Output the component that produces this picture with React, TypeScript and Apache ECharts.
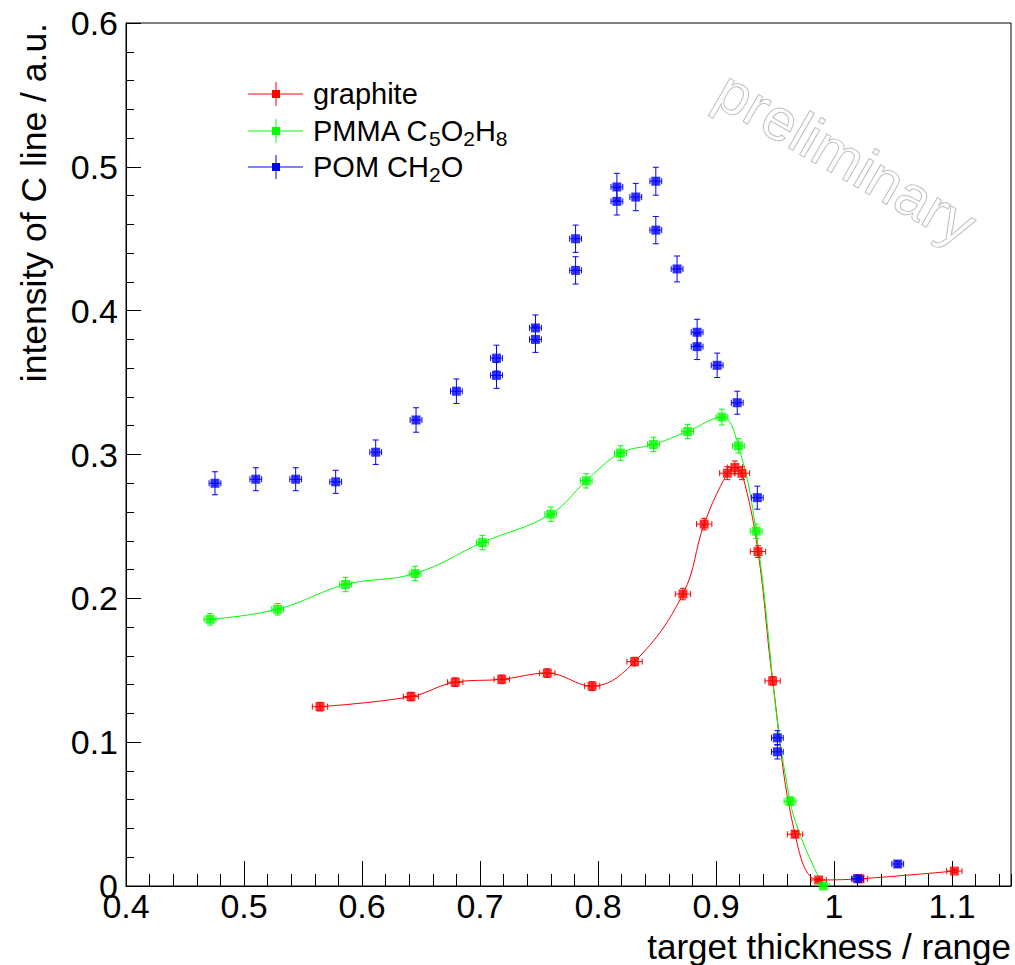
import React, { useEffect, useRef } from "react";
import * as echarts from "echarts";

// ---------- data ----------
const graphiteX = [0.5644, 0.6415, 0.679, 0.7184, 0.757, 0.795, 0.831, 0.872, 0.89, 0.9096, 0.916, 0.922, 0.9356, 0.948, 0.967, 0.987, 1.022, 1.102];
const graphiteY = [0.1247, 0.1317, 0.1417, 0.1437, 0.148, 0.139, 0.156, 0.203, 0.2516, 0.287, 0.291, 0.287, 0.2325, 0.1426, 0.036, 0.0042, 0.005, 0.0104];
const graphiteXErr = [0.0065, 0.0065, 0.0065, 0.0065, 0.0065, 0.0065, 0.0065, 0.0065, 0.0065, 0.0065, 0.0065, 0.0065, 0.0065, 0.0065, 0.0065, 0.0065, 0.0065, 0.0065];
const graphiteYErr = [0.003, 0.003, 0.003, 0.003, 0.003, 0.003, 0.003, 0.004, 0.004, 0.0045, 0.0045, 0.0045, 0.004, 0.003, 0.002, 0.001, 0.001, 0.001];

const pmmaX = [0.4712, 0.5285, 0.586, 0.645, 0.702, 0.76, 0.79, 0.819, 0.847, 0.876, 0.905, 0.919, 0.934, 0.9627, 0.991];
const pmmaY = [0.1854, 0.1924, 0.2096, 0.2173, 0.2388, 0.2585, 0.2817, 0.301, 0.307, 0.316, 0.326, 0.306, 0.2467, 0.0589, 0.0];
const pmmaXErr = [0.005, 0.005, 0.005, 0.005, 0.005, 0.005, 0.005, 0.005, 0.005, 0.005, 0.005, 0.005, 0.005, 0.005, 0.005];
const pmmaYErr = [0.004, 0.004, 0.005, 0.005, 0.005, 0.005, 0.005, 0.005, 0.005, 0.005, 0.0055, 0.005, 0.005, 0.003, 0.001];

const pomX = [0.4754, 0.51, 0.5438, 0.5777, 0.6116, 0.6458, 0.68, 0.714, 0.714, 0.747, 0.747, 0.781, 0.781, 0.816, 0.816, 0.832, 0.849, 0.849, 0.867, 0.884, 0.884, 0.901, 0.918, 0.935, 0.952, 0.952, 1.02, 1.054];
const pomY = [0.28, 0.2828, 0.2828, 0.281, 0.3016, 0.324, 0.344, 0.367, 0.355, 0.388, 0.38, 0.45, 0.428, 0.486, 0.476, 0.479, 0.49, 0.456, 0.429, 0.385, 0.375, 0.362, 0.336, 0.27, 0.103, 0.0933, 0.0051, 0.0153];
const pomXErr = [0.005, 0.005, 0.005, 0.005, 0.005, 0.005, 0.005, 0.005, 0.005, 0.005, 0.005, 0.005, 0.005, 0.005, 0.005, 0.005, 0.005, 0.005, 0.005, 0.005, 0.005, 0.005, 0.005, 0.005, 0.005, 0.005, 0.005, 0.005];
const pomYErr = [0.008, 0.008, 0.008, 0.008, 0.0085, 0.0085, 0.0085, 0.009, 0.009, 0.009, 0.009, 0.0095, 0.0095, 0.0095, 0.0095, 0.0095, 0.0097, 0.0095, 0.009, 0.009, 0.009, 0.0085, 0.008, 0.008, 0.005, 0.005, 0.002, 0.002];

const legendLabels = ["graphite", "PMMA", "POM"];
const xAxisTitle = "target thickness / range";
const yAxisTitle = "intensity of C line / a.u.";
const watermark = "preliminary";

const X_MIN = 0.4;
const X_MAX = 1.15;
const Y_MIN = 0;
const Y_MAX = 0.6;

const RED = "#ff0000";
const GREEN = "#00ff00";
const BLUE = "#0000ff";
const FONT = '"Liberation Sans", Arial, Helvetica, sans-serif';

function errorBars(xs: number[], ys: number[], exs: number[], eys: number[], color: string, z: number) {
  return {
    type: "custom",
    data: xs.map((x, i) => [x, ys[i], exs[i], eys[i]]),
    encode: { x: 0, y: 1 },
    clip: true,
    z,
    silent: true,
    renderItem: (_params: any, api: any) => {
      const x = api.value(0);
      const y = api.value(1);
      const ex = api.value(2);
      const ey = api.value(3);
      const l = api.coord([x - ex, y]);
      const r = api.coord([x + ex, y]);
      const t = api.coord([x, y + ey]);
      const b = api.coord([x, y - ey]);
      const cap = 3;
      const style = { stroke: color, lineWidth: 1 };
      return {
        type: "group",
        children: [
          { type: "line", shape: { x1: l[0], y1: l[1], x2: r[0], y2: r[1] }, style },
          { type: "line", shape: { x1: t[0], y1: t[1], x2: b[0], y2: b[1] }, style },
          { type: "line", shape: { x1: l[0], y1: l[1] - cap, x2: l[0], y2: l[1] + cap }, style },
          { type: "line", shape: { x1: r[0], y1: r[1] - cap, x2: r[0], y2: r[1] + cap }, style },
          { type: "line", shape: { x1: t[0] - cap, y1: t[1], x2: t[0] + cap, y2: t[1] }, style },
          { type: "line", shape: { x1: b[0] - cap, y1: b[1], x2: b[0] + cap, y2: b[1] }, style },
        ],
      };
    },
  };
}

function markers(xs: number[], ys: number[], color: string, z: number) {
  return {
    type: "scatter",
    data: xs.map((x, i) => [x, ys[i]]),
    symbol: "rect",
    symbolSize: 9,
    itemStyle: { color },
    z,
    silent: true,
  };
}

function curve(xs: number[], ys: number[], color: string, z: number) {
  return {
    type: "line",
    data: xs.map((x, i) => [x, ys[i]]),
    smooth: 0.4,
    showSymbol: false,
    symbol: "none",
    lineStyle: { color, width: 1 },
    clip: true,
    z,
    silent: true,
  };
}

function legendRow(y: number, color: string, rich: string) {
  return [
    { type: "line", shape: { x1: 248, y1: y, x2: 303, y2: y }, style: { stroke: color, lineWidth: 1 } },
    { type: "line", shape: { x1: 276, y1: y - 12, x2: 276, y2: y + 12 }, style: { stroke: color, lineWidth: 1 } },
    { type: "rect", shape: { x: 272, y: y - 4, width: 8, height: 8 }, style: { fill: color } },
    {
      type: "text",
      x: 313,
      y,
      style: {
        text: rich,
        fill: "#000",
        font: `29px ${FONT}`,
        verticalAlign: "middle",
        align: "left",
        rich: {
          m: { fontSize: 29, fontFamily: FONT, lineHeight: 36, verticalAlign: "middle", fill: "#000" },
          s: { fontSize: 21, fontFamily: FONT, lineHeight: 17, verticalAlign: "bottom", fill: "#000" },
        },
      },
    },
  ];
}

export default function App() {
  const ref = useRef<HTMLDivElement>(null);

  useEffect(() => {
    if (!ref.current) return;
    const chart = echarts.init(ref.current, null, { renderer: "svg" });
    const tickLabelStyle = { color: "#000", fontSize: 34, fontFamily: FONT };
    chart.setOption({
      animation: false,
      backgroundColor: "#fff",
      grid: {
        left: 126,
        right: 4,
        top: 23,
        bottom: 79,
        show: true,
        borderColor: "#000",
        borderWidth: 1,
        backgroundColor: "transparent",
        containLabel: false,
        outerBoundsMode: "none",
      },
      xAxis: [
        {
          type: "value",
          min: X_MIN,
          max: X_MAX,
          interval: 0.1,
          position: "bottom",
          axisLine: { show: true, onZero: false, lineStyle: { color: "#000", width: 1 } },
          axisTick: { show: true, inside: true, length: 25, lineStyle: { color: "#000", width: 1 } },
          axisLabel: {
            ...tickLabelStyle,
            margin: 3,
            lineHeight: 34,
            showMaxLabel: false,
            formatter: (v: number) => String(Number(v.toFixed(2))),
          },
          splitLine: { show: false },
        },
        {
          type: "value",
          min: X_MIN,
          max: X_MAX,
          interval: 0.02,
          position: "bottom",
          axisLine: { show: false },
          axisTick: { show: true, inside: true, length: 12, lineStyle: { color: "#000", width: 1 } },
          axisLabel: { show: false },
          splitLine: { show: false },
        },
      ],
      yAxis: {
        type: "value",
        min: Y_MIN,
        max: Y_MAX,
        interval: 0.1,
        axisLine: { show: true, onZero: false, lineStyle: { color: "#000", width: 1 } },
        axisTick: { show: true, inside: true, length: 15, lineStyle: { color: "#000", width: 1 } },
        minorTick: { show: true, splitNumber: 5, length: 8, lineStyle: { color: "#000", width: 1 } },
        axisLabel: {
          ...tickLabelStyle,
          margin: 8,
          formatter: (v: number) => (v === 0 ? "0" : v.toFixed(1)),
        },
        splitLine: { show: false },
        minorSplitLine: { show: false },
      },
      series: [
        curve(graphiteX, graphiteY, RED, 2),
        curve(pmmaX, pmmaY, GREEN, 3),
        errorBars(graphiteX, graphiteY, graphiteXErr, graphiteYErr, RED, 4),
        markers(graphiteX, graphiteY, RED, 5),
        errorBars(pmmaX, pmmaY, pmmaXErr, pmmaYErr, GREEN, 6),
        markers(pmmaX, pmmaY, GREEN, 7),
        errorBars(pomX, pomY, pomXErr, pomYErr, BLUE, 8),
        markers(pomX, pomY, BLUE, 9),
      ],
      graphic: [
        {
          type: "text",
          x: 1011,
          y: 946,
          style: { text: xAxisTitle, font: `35px ${FONT}`, fill: "#000", align: "right", verticalAlign: "middle" },
        },
        {
          type: "text",
          x: 34,
          y: 23,
          rotation: Math.PI / 2,
          style: { text: yAxisTitle, font: `35.5px ${FONT}`, fill: "#000", align: "right", verticalAlign: "middle" },
        },
        {
          type: "text",
          x: 846,
          y: 158,
          rotation: -Math.PI / 6,
          style: {
            text: watermark,
            font: `59px ${FONT}`,
            fill: "rgba(0,0,0,0)",
            stroke: "#c0c0c0",
            lineWidth: 1,
            align: "center",
            verticalAlign: "middle",
          },
        },
        ...legendRow(94, RED, `{m|${legendLabels[0]}}`),
        ...legendRow(131, GREEN, `{m|${legendLabels[1]} C}{s|5}{m|O}{s|2}{m|H}{s|8}`),
        ...legendRow(167, BLUE, `{m|${legendLabels[2]} CH}{s|2}{m|O}`),
      ],
    });
    return () => chart.dispose();
  }, []);

  return (
    <div
      ref={ref}
      style={{ position: "fixed", left: 0, top: 0, width: 1015, height: 965, background: "#fff" }}
    />
  );
}
